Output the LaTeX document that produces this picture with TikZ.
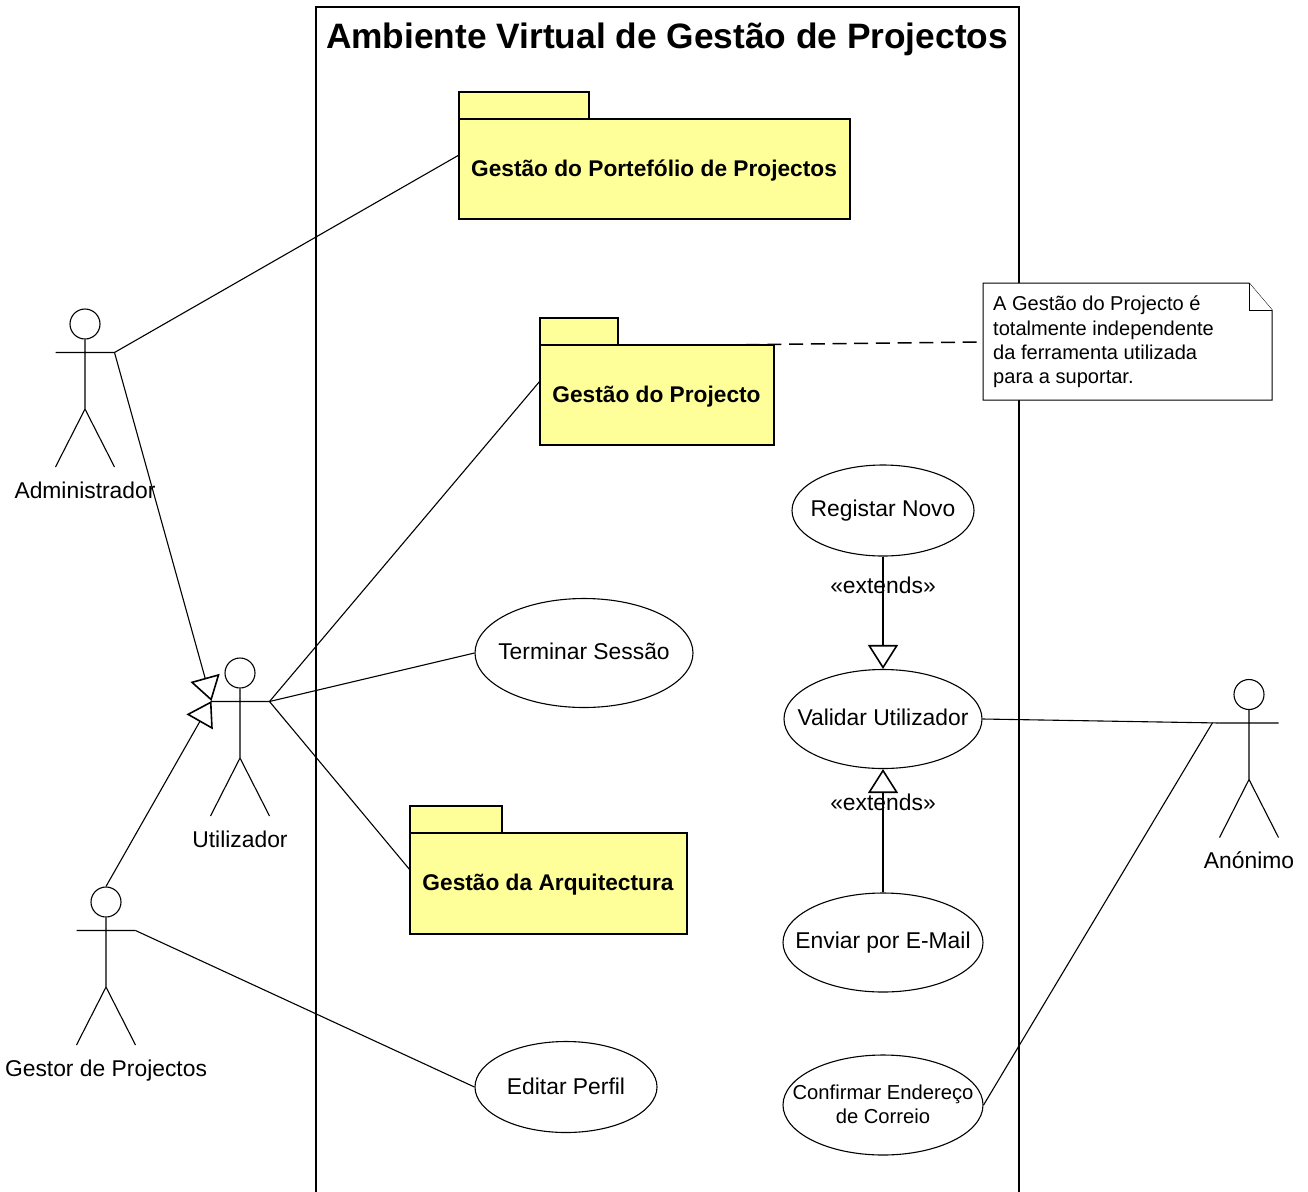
\documentclass[tikz,border=0pt]{standalone}
\usepackage{fontspec}
\setmainfont{Liberation Sans}
\usetikzlibrary{arrows.meta,shapes.geometric}
\definecolor{pkgfill}{HTML}{FFFF99}
\tikzset{
  x=1pt,y=-1pt,
  line/.style={draw=black,line width=1.1pt},
  lbl/.style={font=\fontsize{22.85}{27}\selectfont,inner sep=0pt,text=black},
  usecase/.style={ellipse,line,fill=white,inner sep=0pt},
  pkgbody/.style={rectangle,line,fill=pkgfill,inner sep=0pt},
  pkgtab/.style={rectangle,line,fill=pkgfill,inner sep=0pt},
  pkglbl/.style={inner sep=0pt,anchor=base,font=\bfseries\fontsize{22.7}{27}\selectfont},
  head/.style={circle,line,fill=white,inner sep=0pt,minimum size=30pt},
  assoc/.style={line},
  gen/.style={draw=black,line width=1.1pt,-{Triangle[open,length=24pt,width=30pt,line width=1.6pt]}},
  notebox/.style={line width=1pt,draw=black,fill=white}
}
\newcommand{\actor}[4]{%
  % name, x, head y, label
  \node[head] (#1) at (#2,#3) {};
  \coordinate (#1-hip) at (#2,#3+85);
  \coordinate (#1-l) at (#2-29.5,#3+28.5);
  \coordinate (#1-r) at (#2+29.5,#3+28.5);
  \coordinate (#1-fl) at (#2-29.5,#3+143);
  \coordinate (#1-fr) at (#2+29.5,#3+143);
  \draw[line] (#1) -- (#1-hip) (#1-l) -- (#1-r) (#1-fl) -- (#1-hip) -- (#1-fr);
  \node[lbl,anchor=base] (#1-label) at (#2,#3+174) {#4};
}
\begin{document}
\begin{tikzpicture}
\useasboundingbox (0,0) rectangle (1308,1191);
\fill[white] (0,0) rectangle (1308,1191);
% system frame
\draw[line,line width=1.5pt] (316,1195) -- (316,7) -- (1019,7) -- (1019,1195);
\node[inner sep=0pt,anchor=base,font=\bfseries\fontsize{35.3}{40}\selectfont] (title) at (667,48) {Ambiente Virtual de Gestão de Projectos};
% packages
\node[pkgtab,minimum width=130pt,minimum height=27pt] (p1tab) at (524,105.5) {};
\node[pkgbody,minimum width=391pt,minimum height=100pt] (p1) at (654.5,169) {};
\node[pkglbl] (p1t) at (654,176) {Gestão do Portefólio de Projectos};
\node[pkgtab,minimum width=78pt,minimum height=27pt] (p2tab) at (579,331.5) {};
\node[pkgbody,minimum width=234pt,minimum height=100pt] (p2) at (657,395) {};
\node[pkglbl] (p2t) at (656.5,402) {Gestão do Projecto};
\node[pkgtab,minimum width=92pt,minimum height=27pt] (p3tab) at (456,819.5) {};
\node[pkgbody,minimum width=277pt,minimum height=101pt] (p3) at (548.5,883.5) {};
\node[pkglbl] (p3t) at (548,890) {Gestão da Arquitectura};
\coordinate (p1in) at (459,155);
\coordinate (p2in) at (540,381);
\coordinate (p3in) at (410,870);
\coordinate (p2note) at (724,345);
% use cases
\node[usecase,minimum width=182pt,minimum height=91pt] (reg) at (883,510.5) {};
\node[lbl] (regt) at (883,511) {Registar Novo};
\node[usecase,minimum width=218pt,minimum height=109pt] (term) at (584,653) {};
\node[lbl] (termt) at (584,651) {Terminar Sessão};
\node[usecase,minimum width=198pt,minimum height=99pt] (val) at (883,719) {};
\node[lbl] (valt) at (883,717) {Validar Utilizador};
\node[usecase,minimum width=200pt,minimum height=99pt] (env) at (883,942.5) {};
\node[lbl] (envt) at (883,943) {Enviar por E-Mail};
\node[usecase,minimum width=182pt,minimum height=91pt] (edit) at (566,1087) {};
\node[lbl] (editt) at (566,1086) {Editar Perfil};
\node[usecase,minimum width=200pt,minimum height=100pt] (conf) at (883,1105) {};
\node[inner sep=0pt,align=center,font=\fontsize{20.2}{24}\selectfont] (conft) at (883,1104) {Confirmar Endereço\\de Correio};
% actors
\actor{adm}{85}{324}{Administrador}
\actor{uti}{240}{673}{Utilizador}
\actor{ges}{106}{902}{Gestor de Projectos}
\actor{ano}{1249}{694.5}{Anónimo}
\coordinate (uti-tip) at (211.5,701);
\coordinate (ano-in) at (1212.5,722.7);
% note
\coordinate (n-w) at (983,342);
\draw[notebox] (983,283) -- (1249,283) -- (1272,310) -- (1272,400) -- (983,400) -- cycle;
\draw[notebox] (1249,283) -- (1249,310) -- (1272,310);
\node[anchor=north west,inner sep=0pt,align=left,font=\fontsize{20.05}{24.3}\selectfont] (note) at (993,296) {A Gestão do Projecto é\\totalmente independente\\da ferramenta utilizada\\para a suportar.};
% connectors
\draw[assoc] (adm-r) -- (p1in);
\draw[assoc] (uti-r) -- (p2in);
\draw[assoc] (uti-r) -- (term.west);
\draw[assoc] (uti-r) -- (p3in);
\draw[assoc] (ges-r) -- (edit.west);
\draw[assoc] (val.east) -- (ano-l);
\draw[assoc] (conf.east) -- (ano-in);
\draw[gen] (adm-r) -- (uti-tip);
\draw[gen] (ges.north) -- (uti-tip);
\draw[gen] (reg) -- (val);
\draw[gen] (env) -- (val);
\draw[line,line width=1.5pt,dash pattern=on 14pt off 7.7pt,shorten >=6pt] (p2note) -- (n-w);
% stereotype labels
\node[lbl] (ext1) at (883,585) {«extends»};
\node[lbl] (ext2) at (883,802) {«extends»};
\end{tikzpicture}
\end{document}
